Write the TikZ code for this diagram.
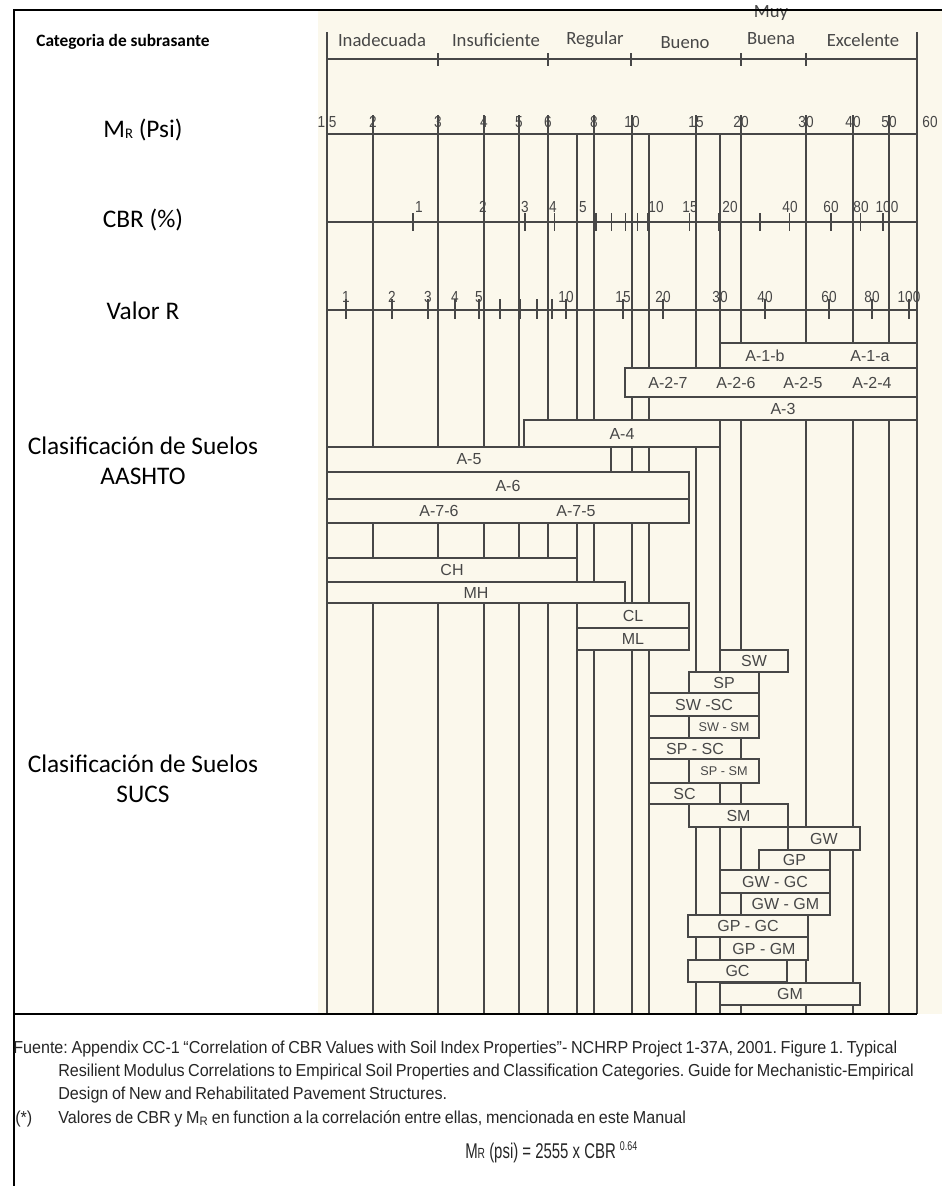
\documentclass[tikz,border=0pt]{standalone}
\usepackage{fontspec}
\setmainfont{Liberation Sans}
\newfontfamily\calibri{Carlito}
\newfontfamily\narrow[FakeStretch=0.85]{Liberation Sans}
\newfontfamily\footfont[FakeStretch=0.93,WordSpace=0.8]{Liberation Sans}
\newfontfamily\formulafont[FakeStretch=0.7]{Liberation Sans}
\definecolor{paper}{HTML}{FBF8EC}
\definecolor{ink}{HTML}{474747}
\frenchspacing

\tikzset{
  soilbox/.style={draw=ink,fill=paper,line width=0.8pt},
  gridline/.style={ink,line width=0.8pt},
  axisline/.style={ink,line width=1.3pt},
  num/.style={font=\narrow\fontsize{12}{12}\selectfont,text=ink,inner sep=0pt},
  soiltext/.style={font=\fontsize{12}{12}\selectfont,text=ink,inner sep=0pt},
  cattext/.style={font=\calibri\fontsize{14}{18}\selectfont,text=ink,align=center,inner sep=0pt},
  rowtext/.style={font=\calibri\fontsize{19}{22.5}\selectfont,align=center,inner sep=0pt},
  foot/.style={font=\footfont\fontsize{13}{13}\selectfont,text=black!85,anchor=base west,inner sep=0pt},
}

\begin{document}
\begin{tikzpicture}[x=0.75pt,y=-0.75pt]
  \useasboundingbox (0,0) rectangle (942,1186);
  \fill[paper] (318,10) rectangle (942,1014);

  % grid of the four scales
  \foreach \x in {373,438,484,519,548,594,632,696,741,806,853,889}
    \draw[gridline] (\x,115) -- (\x,1014);
  \foreach \x in {577,649,720} \draw[gridline] (\x,134) -- (\x,1014); % CBR 5, 10, 20
  \draw[axisline] (327,32) -- (327,1014);
  \draw[axisline] (917,32) -- (917,1014);
  \draw[axisline] (327,59) -- (917,59);   % categorias
  \draw[axisline] (327,134) -- (917,134); % MR
  \draw[axisline] (327,222) -- (917,222); % CBR
  \draw[axisline] (327,310) -- (917,310); % valor R
  \foreach \x in {438,548,631,741,806} \draw[axisline] (\x,53) -- (\x,66);
  \foreach \v in {1,...,10,15,20,30,40,60,80,100}
    \draw[axisline,line width=1pt] ({413+235*log10(\v)},213) -- ++(0,18);
  \foreach \x in {346,392,428,455,479,500,520,537,552,566,623,663,720,765,829,872,909}
    \draw[axisline,line width=1pt] (\x,299) -- (\x,319);

  % categoria de subrasante
  \foreach \x/\l [count=\i] in {382/Inadecuada,496/Insuficiente,595/Regular,863/Excelente}
    \node[cattext] (cat\i) at (\x,40) {\l};
  \node[cattext] (bueno) at (685,43) {Bueno};
  \node[cattext] (muy) at (771,13) {Muy};
  \node[cattext] (buena) at (771,39) {Buena};

  % escalas
  \foreach \x/\l [count=\i] in {327/1.5,373/2,438/3,484/4,519/5,548/6,594/8,632/10,696/15,741/20,806/30,853/40,889/50,930/60}
    \node[num] (mr\i) at (\x,122) {\l};
  \foreach \x/\l [count=\i] in {419/1,483/2,525/3,553/4,583/5,656/10,690/15,730/20,790/40,831/60,861/80,887/100}
    \node[num] (cbr\i) at (\x,207) {\l};
  \foreach \x/\l [count=\i] in {346/1,392/2,428/3,455/4,479/5,566/10,623/15,663/20,720/30,765/40,829/60,872/80,909/100}
    \node[num] (r\i) at (\x,297) {\l};

  % AASHTO
  \foreach \n/\a/\b/\c/\d/\t in {a1/720/917/343/368/{},a2/625/917/368/397/{},a3/649/917/397/420/A-3,
      a4/524/720/420/447/A-4,a5/327/611/447/472/A-5,a6/327/689/472/499/A-6,a7/327/689/499/523/{}}{
    \draw[soilbox] (\a,\c) rectangle (\b,\d);
    \node[soiltext] (\n) at ({(\a+\b)/2},{(\c+\d)/2}) {\t};
  }
  \foreach \x/\y/\t [count=\i] in {765/356/A-1-b,870/356/A-1-a,668/383/A-2-7,736/383/A-2-6,
      803/383/A-2-5,872/383/A-2-4,439/511/A-7-6,576/511/A-7-5}
    \node[soiltext] (aa\i) at (\x,\y) {\t};

  % SUCS
  \foreach \n/\a/\b/\c/\d/\t in {ch/327/577/558/582/CH,mh/327/625/582/603/MH,cl/577/689/603/628/CL,
      ml/577/689/628/650/ML,sw/720/788/650/672/SW,sp/689/759/672/693/SP,swsc/649/759/693/716/SW -SC,
      swsm/689/759/716/738/{\fontsize{9.5}{9.5}\selectfont SW - SM},spsc/649/741/738/759/SP - SC,
      spsm/689/759/759/783/{\fontsize{9.5}{9.5}\selectfont SP - SM},sc/649/720/783/804/SC,
      sm/689/788/804/827/SM,gw/788/860/827/850/GW,gp/759/830/850/870/GP,gwgc/720/830/870/893/GW - GC,
      gwgm/741/830/893/915/GW - GM,gpgc/688/808/915/937/GP - GC,gpgm/720/808/937/960/GP - GM,
      gc/688/787/960/982/GC,gm/720/860/983/1005/GM}{
    \draw[soilbox] (\a,\c) rectangle (\b,\d);
    \node[soiltext] (\n) at ({(\a+\b)/2},{(\c+\d)/2}) {\t};
  }

  % columna de la izquierda
  \node[font=\calibri\bfseries\fontsize{13}{13}\selectfont,inner sep=0pt] (titulo) at (123,42) {Categoria de subrasante};
  \node[rowtext] (mrrow) at (143,130) {M\raisebox{-1pt}{\fontsize{11}{11}\selectfont R} (Psi)};
  \node[rowtext] (cbrrow) at (143,220) {CBR (\%)};
  \node[rowtext] (rrow) at (143,311) {Valor R};
  \node[rowtext] (aashto) at (143,461) {Clasificación de Suelos\\AASHTO};
  \node[rowtext] (sucs) at (143,779) {Clasificación de Suelos\\SUCS};

  % marco
  \draw[black,line width=1.2pt] (14,1014) -- (917,1014);
  \draw[black,line width=1.8pt] (14,1186) -- (14,10) -- (942,10);

  % fuente
  \node[foot] (fuente) at (13,1053) {Fuente: Appendix CC-1 “Correlation of CBR Values with Soil Index Properties”- NCHRP Project 1-37A, 2001. Figure 1. Typical};
  \node[foot] (fuente2) at (58,1076) {Resilient Modulus Correlations to Empirical Soil Properties and Classification Categories. Guide for Mechanistic-Empirical};
  \node[foot] (fuente3) at (58,1099) {Design of New and Rehabilitated Pavement Structures.};
  \node[foot] (nota) at (15,1123) {(*)};
  \node[foot] (nota2) at (58,1123) {Valores de CBR y M\textsubscript{R} en function a la correlación entre ellas, mencionada en este Manual};
  \node[foot,font=\formulafont\fontsize{16}{16}\selectfont] (formula) at (465,1158) {M{\fontsize{11}{11}\selectfont R} (psi) = 2555 x CBR \raisebox{5.5pt}{\fontsize{9.5}{9.5}\selectfont 0.64}};
\end{tikzpicture}
\end{document}
